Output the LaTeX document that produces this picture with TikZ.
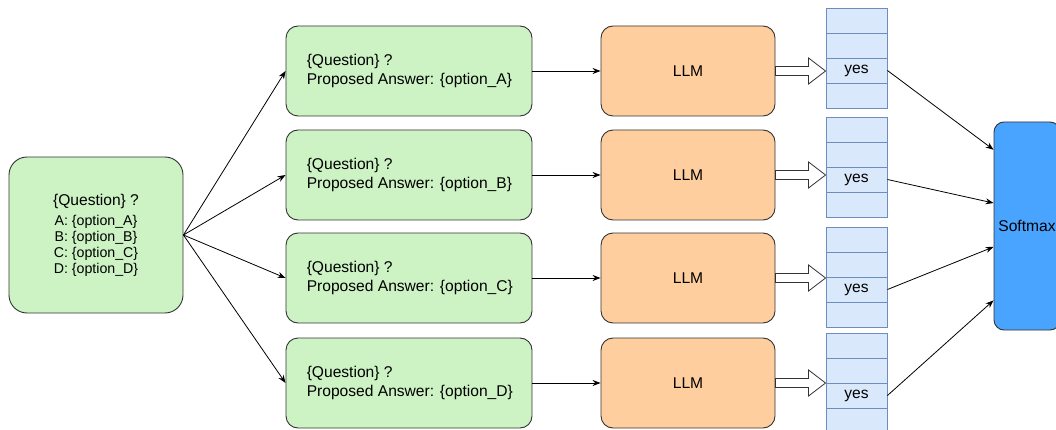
\documentclass[tikz,border=0pt]{standalone}
\usepackage{fontspec}
\setmainfont{Liberation Sans}
\usetikzlibrary{arrows.meta,calc}
\definecolor{qgreen}{HTML}{CDF3C5}
\definecolor{llmorange}{HTML}{FFCE9F}
\definecolor{cellblue}{HTML}{DAE8FC}
\definecolor{celledge}{HTML}{6C8EBF}
\definecolor{smblue}{HTML}{49A4FF}
\definecolor{edge}{HTML}{333333}

\begin{document}
\begin{tikzpicture}[x=1pt,y=-1pt,
  box/.style={draw=edge, line width=0.9pt, rounded corners=12pt, inner sep=0pt},
  prompt/.style={box, fill=qgreen, minimum width=246pt, minimum height=90pt},
  ptext/.style={anchor=west, inner sep=0pt, align=left, font=\fontsize{15.6}{19.5}\selectfont},
  llm/.style={box, fill=llmorange, minimum width=174pt, minimum height=90pt,
    font=\fontsize{15.6}{19}\selectfont},
  cell/.style={draw=celledge, fill=cellblue, line width=0.9pt, minimum width=61pt,
    minimum height=25pt, inner sep=0pt, font=\fontsize{15.6}{19}\selectfont},
  link/.style={draw=black, line width=0.8pt, -{Stealth[length=8pt,width=6pt]}},
  hollow/.style={draw=edge, fill=white, line width=0.8pt, line join=miter}
]
\useasboundingbox (0,0) rectangle (1056,430);
\clip (0,0) rectangle (1056,430);

% question with all options
\node[box, fill=qgreen, rounded corners=18pt, minimum width=174pt, minimum height=156pt,
  align=center, font=\fontsize{14.2}{16}\selectfont] (q) at (96,235)
  {{\fontsize{15.6}{19}\selectfont \{Question\} ?}\\[4pt]
   A: \{option\_A\}\\ B: \{option\_B\}\\ C: \{option\_C\}\\ D: \{option\_D\}};

% one prompt, one model call and one output stack per option
\foreach \r/\ty/\top/\opt in {1/71/8/A, 2/175/117/B, 3/278/227/C, 4/383/333/D}{
  \node[prompt] (p\r) at (409,\ty) {};
  \node[ptext] (pt\r) at ($(p\r.west)+(21,0)$) {\{Question\} ?\\Proposed Answer: \{option\_\opt\}};
  \node[llm] (l\r) at (688,\ty) {LLM};
  \node[cell] (s\r c0) at (856.5,\top+12.5) {};
  \node[cell] (s\r c1) at (856.5,\top+37.5) {};
  \node[cell] (s\r c2) at (856.5,\top+62.5) {yes};
  \node[cell] (s\r c3) at (856.5,\top+87.5) {};
}

% softmax over the "yes" scores
\node[box, rounded corners=10pt, fill=smblue, minimum width=66pt, minimum height=208pt,
  font=\fontsize{15.6}{19}\selectfont] (sm) at (1027,226) {Softmax};
\coordinate (in1) at ($(sm.north west)!0.135!(sm.south west)$);
\coordinate (in2) at ($(sm.north west)!0.39!(sm.south west)$);
\coordinate (in3) at ($(sm.north west)!0.60!(sm.south west)$);
\coordinate (in4) at ($(sm.north west)!0.856!(sm.south west)$);

\foreach \r in {1,2,3,4}{
  \draw[link] (q.east) -- (p\r.west);
  \draw[link] (p\r.east) -- (l\r.west);
  % hollow block arrow from the model to its output
  \path[hollow] ($(l\r.east)+(0,-4.5)$) -- ($(l\r.east -| s\r c2.west)+(-17,-4.5)$)
    -- ++(0,-8.5) -- (l\r.east -| s\r c2.west) -- ($(l\r.east -| s\r c2.west)+(-17,13)$)
    -- ++(0,-8.5) -- ($(l\r.east)+(0,4.5)$) -- cycle;
  \draw[link] (s\r c2.east) -- (in\r);
}
\end{tikzpicture}
\end{document}
